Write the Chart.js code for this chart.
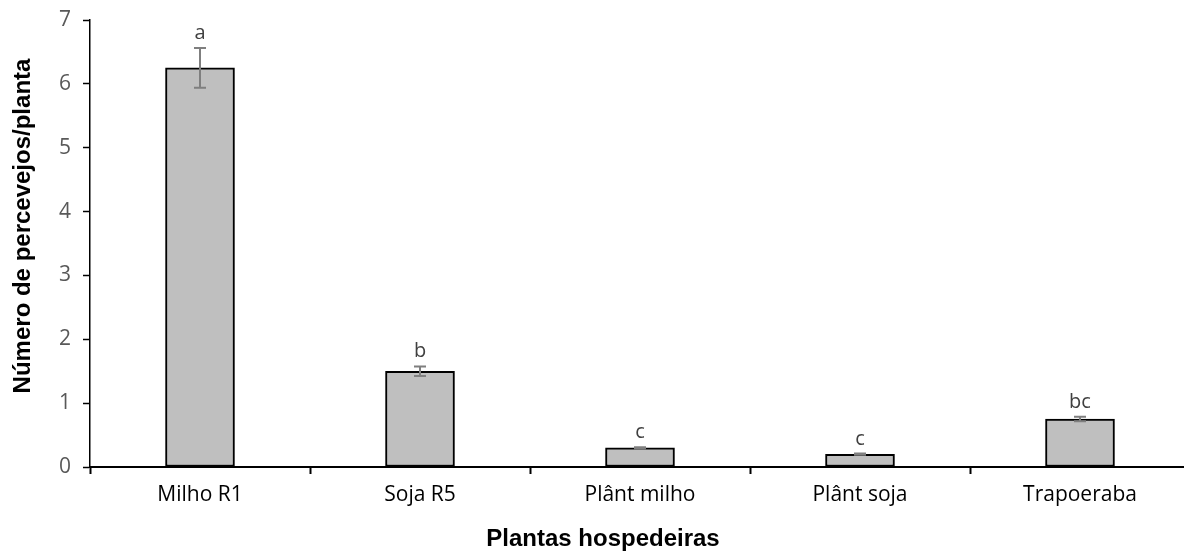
<!DOCTYPE html>
<html>
<head>
<meta charset="utf-8">
<script src="https://cdn.jsdelivr.net/npm/chart.js@4/dist/chart.umd.min.js"></script>
<style>
  html, body { margin: 0; padding: 0; background: #fff; overflow: hidden; }
  #wrap { width: 1200px; height: 552px; }
</style>
</head>
<body>
<div id="wrap"><canvas id="c" width="1200" height="552"></canvas></div>
<script>
// Host plants and mean bugs per plant
const categories = ['Milho R1', 'Soja R5', 'Plânt milho', 'Plânt soja', 'Trapoeraba'];
const means = [6.25, 1.5, 0.3, 0.2, 0.75];
const stdErrors = [0.31, 0.075, 0.01, 0.01, 0.035];
const letters = ['a', 'b', 'c', 'c', 'bc'];
const yTicks = [0, 1, 2, 3, 4, 5, 6, 7];
const xTitle = 'Plantas hospedeiras';
const yTitle = 'Número de percevejos/planta';

const tickFont = '"Open Sans", "DejaVu Sans", sans-serif';
const titleFont = 'bold 24px "Liberation Sans", Arial, sans-serif';

// Error bars and significance letters drawn on top of the bars
const errorBarPlugin = {
  id: 'errorBars',
  afterDatasetsDraw(chart) {
    const ctx = chart.ctx;
    const x = chart.scales.x;
    const y = chart.scales.y;
    ctx.save();
    means.forEach((m, i) => {
      const cx = x.getPixelForValue(i);
      const top = y.getPixelForValue(m + stdErrors[i]);
      const bot = y.getPixelForValue(m - stdErrors[i]);
      ctx.strokeStyle = '#7f7f7f';
      ctx.lineWidth = 2;
      ctx.beginPath();
      ctx.moveTo(cx, top); ctx.lineTo(cx, bot);
      ctx.moveTo(cx - 6, top); ctx.lineTo(cx + 6, top);
      ctx.moveTo(cx - 6, bot); ctx.lineTo(cx + 6, bot);
      ctx.stroke();
      ctx.fillStyle = '#404040';
      ctx.font = '20px ' + tickFont;
      ctx.textAlign = 'center';
      ctx.textBaseline = 'alphabetic';
      ctx.fillText(letters[i], cx, top - 9);
    });
    ctx.restore();
  }
};

// Axis titles, placed relative to the whole figure
const axisTitlePlugin = {
  id: 'axisTitles',
  afterDraw(chart) {
    const ctx = chart.ctx;
    ctx.save();
    ctx.fillStyle = '#000';
    ctx.font = titleFont;
    ctx.textAlign = 'center';
    ctx.textBaseline = 'middle';
    ctx.fillText(xTitle, 603, 539);
    ctx.translate(23, 226);
    ctx.rotate(-Math.PI / 2);
    ctx.fillText(yTitle, 0, 0);
    ctx.restore();
  }
};

new Chart(document.getElementById('c'), {
  type: 'bar',
  data: {
    labels: categories,
    datasets: [{
      data: means,
      backgroundColor: '#bfbfbf',
      borderColor: '#000000',
      borderWidth: 2,
      borderSkipped: false,
      barThickness: 69
    }]
  },
  options: {
    responsive: false,
    animation: false,
    layout: { padding: { left: 0, top: 20, right: 10, bottom: 0 } },
    plugins: { legend: { display: false }, tooltip: { enabled: false } },
    scales: {
      x: {
        offset: true,
        grid: {
          display: true, offset: true, drawOnChartArea: false, drawTicks: true,
          tickLength: 7, tickWidth: 2, tickColor: '#000'
        },
        border: { display: true, color: '#000', width: 2 },
        ticks: {
          color: '#000', padding: 8,
          font: { family: tickFont, size: 21 }
        },
        afterFit(scale) {
          scale.height = 85;
          scale.paddingLeft = 0;
          scale.paddingRight = 0;
        }
      },
      y: {
        min: 0, max: 7,
        afterBuildTicks(scale) { scale.ticks = yTicks.map(v => ({ value: v })); },
        grid: {
          display: true, drawOnChartArea: false, drawTicks: true,
          tickLength: 7, tickColor: '#000', tickWidth: 1.5
        },
        border: { display: true, color: '#000', width: 1.5 },
        ticks: {
          color: '#595959', padding: 12,
          font: { family: tickFont, size: 21 }
        },
        afterFit(scale) {
          scale.width = 90;
          scale.paddingTop = 0;
          scale.paddingBottom = 0;
        }
      }
    }
  },
  plugins: [errorBarPlugin, axisTitlePlugin]
});
</script>
</body>
</html>
